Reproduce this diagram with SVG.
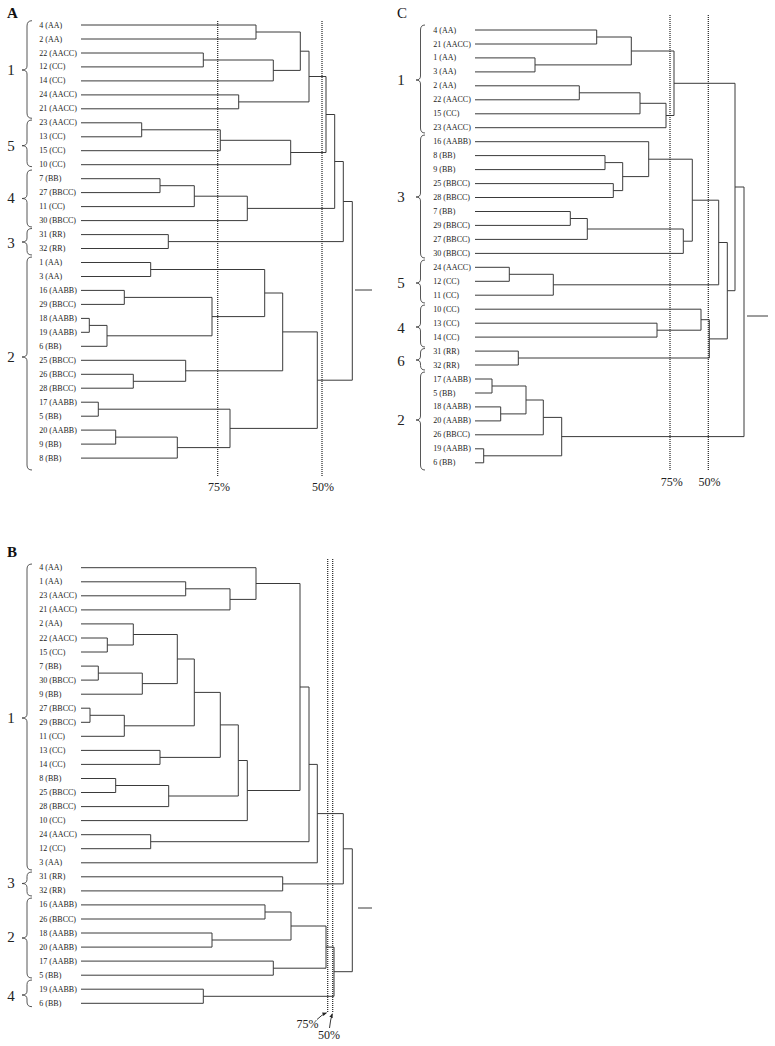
<svg xmlns="http://www.w3.org/2000/svg" width="775" height="1046" viewBox="0 0 775 1046">
<style>
.lf{font-family:"Liberation Serif","Times New Roman",serif;font-size:8px;fill:#222;dominant-baseline:central}
.gp{font-family:"Liberation Serif","Times New Roman",serif;font-size:15px;fill:#222;text-anchor:middle;dominant-baseline:central}
.pct{font-family:"Liberation Serif","Times New Roman",serif;font-size:12px;fill:#222;text-anchor:middle}
.ttl{font-family:"Liberation Serif","Times New Roman",serif;font-size:15px;font-weight:bold;fill:#111}
.ttlc{font-family:"Liberation Serif","Times New Roman",serif;font-size:15px;fill:#111}
.tr{fill:none;stroke:#3a3a3a;stroke-width:1}
.dt{fill:none;stroke:#222;stroke-width:1.2;stroke-dasharray:1 1}
.br{fill:none;stroke:#444;stroke-width:0.9}
.ar{fill:none;stroke:#222;stroke-width:0.9}
</style>
<defs>
<marker id="ah" viewBox="0 0 10 10" refX="9" refY="5" markerWidth="5" markerHeight="5" orient="auto">
<path d="M0 1 L10 5 L0 9 Z" fill="#222"/>
</marker>
</defs>
<rect width="775" height="1046" fill="#fff"/>

<!-- ===== Panel A ===== -->
<g id="panelA-title"><text class="ttl" x="7" y="18">A</text></g>
<g id="panelA-leaves">
<g id="A-4"><text class="lf" x="39.3" y="25">4 (AA)</text></g>
<g id="A-2"><text class="lf" x="39.3" y="39">2 (AA)</text></g>
<g id="A-22"><text class="lf" x="39.3" y="53">22 (AACC)</text></g>
<g id="A-12"><text class="lf" x="39.3" y="66.9">12 (CC)</text></g>
<g id="A-14"><text class="lf" x="39.3" y="80.9">14 (CC)</text></g>
<g id="A-24"><text class="lf" x="39.3" y="94.9">24 (AACC)</text></g>
<g id="A-21"><text class="lf" x="39.3" y="108.8">21 (AACC)</text></g>
<g id="A-23"><text class="lf" x="39.3" y="122.8">23 (AACC)</text></g>
<g id="A-13"><text class="lf" x="39.3" y="136.8">13 (CC)</text></g>
<g id="A-15"><text class="lf" x="39.3" y="150.7">15 (CC)</text></g>
<g id="A-10"><text class="lf" x="39.3" y="164.7">10 (CC)</text></g>
<g id="A-7"><text class="lf" x="39.3" y="178.7">7 (BB)</text></g>
<g id="A-27"><text class="lf" x="39.3" y="192.6">27 (BBCC)</text></g>
<g id="A-11"><text class="lf" x="39.3" y="206.6">11 (CC)</text></g>
<g id="A-30"><text class="lf" x="39.3" y="220.6">30 (BBCC)</text></g>
<g id="A-31"><text class="lf" x="39.3" y="234.6">31 (RR)</text></g>
<g id="A-32"><text class="lf" x="39.3" y="248.5">32 (RR)</text></g>
<g id="A-1"><text class="lf" x="39.3" y="262.5">1 (AA)</text></g>
<g id="A-3"><text class="lf" x="39.3" y="276.5">3 (AA)</text></g>
<g id="A-16"><text class="lf" x="39.3" y="290.4">16 (AABB)</text></g>
<g id="A-29"><text class="lf" x="39.3" y="304.4">29 (BBCC)</text></g>
<g id="A-18"><text class="lf" x="39.3" y="318.4">18 (AABB)</text></g>
<g id="A-19"><text class="lf" x="39.3" y="332.3">19 (AABB)</text></g>
<g id="A-6"><text class="lf" x="39.3" y="346.3">6 (BB)</text></g>
<g id="A-25"><text class="lf" x="39.3" y="360.3">25 (BBCC)</text></g>
<g id="A-26"><text class="lf" x="39.3" y="374.3">26 (BBCC)</text></g>
<g id="A-28"><text class="lf" x="39.3" y="388.2">28 (BBCC)</text></g>
<g id="A-17"><text class="lf" x="39.3" y="402.2">17 (AABB)</text></g>
<g id="A-5"><text class="lf" x="39.3" y="416.2">5 (BB)</text></g>
<g id="A-20"><text class="lf" x="39.3" y="430.1">20 (AABB)</text></g>
<g id="A-9"><text class="lf" x="39.3" y="444.1">9 (BB)</text></g>
<g id="A-8"><text class="lf" x="39.3" y="458.1">8 (BB)</text></g>
</g>
<g id="panelA-groups">
<g id="A-g1"><path class="br" d="M32 20.7 Q27 20.7 27 26 V66 Q27 70 22 70 Q27 70 27 74 V113 Q27 118.3 32 118.3"/><text class="gp" x="11" y="70">1</text></g>
<g id="A-g5"><path class="br" d="M32 120 Q27 120 27 125 V141.7 Q27 145.7 22 145.7 Q27 145.7 27 149.7 V161.7 Q27 166.7 32 166.7"/><text class="gp" x="11" y="145.7">5</text></g>
<g id="A-g4"><path class="br" d="M32 170 Q27 170 27 175 V194.5 Q27 198.5 22 198.5 Q27 198.5 27 202.5 V222 Q27 227 32 227"/><text class="gp" x="11" y="197.5">4</text></g>
<g id="A-g3"><path class="br" d="M32 228.5 Q27 228.5 27 233 V238 Q27 242 22 242 Q27 242 27 246 V250.5 Q27 255 32 255"/><text class="gp" x="11" y="243">3</text></g>
<g id="A-g2"><path class="br" d="M32 257 Q27 257 27 262 V353 Q27 357 22 357 Q27 357 27 361 V465 Q27 470 32 470"/><text class="gp" x="11" y="357">2</text></g>
</g>
<g id="panelA-connectors">
<path class="tr" d="M81 25 H256 V39 H81"/>
<path class="tr" d="M81 53 H203.3 V66.9 H81"/>
<path class="tr" d="M203.3 60 H273.3 V80.9 H81"/>
<path class="tr" d="M256 32 H300.3 V70.4 H273.3"/>
<path class="tr" d="M81 94.9 H238.7 V108.8 H81"/>
<path class="tr" d="M300.3 51.2 H309 V101.9 H238.7"/>
<path class="tr" d="M81 122.8 H141.7 V136.8 H81"/>
<path class="tr" d="M141.7 129.8 H220.3 V150.7 H81"/>
<path class="tr" d="M220.3 140.3 H290.7 V164.7 H81"/>
<path class="tr" d="M309 76.5 H326 V152.5 H290.7"/>
<path class="tr" d="M81 178.7 H160 V192.6 H81"/>
<path class="tr" d="M160 185.7 H194.3 V206.6 H81"/>
<path class="tr" d="M194.3 196.2 H247.3 V220.6 H81"/>
<path class="tr" d="M326 114.5 H334.7 V208.4 H247.3"/>
<path class="tr" d="M81 234.6 H168.3 V248.5 H81"/>
<path class="tr" d="M334.7 161.5 H343.3 V241.6 H168.3"/>
<path class="tr" d="M81 262.5 H150.7 V276.5 H81"/>
<path class="tr" d="M81 318.4 H89.3 V332.3 H81"/>
<path class="tr" d="M89.3 325.4 H107 V346.3 H81"/>
<path class="tr" d="M81 290.4 H124.3 V304.4 H81"/>
<path class="tr" d="M124.3 297.4 H212 V335.8 H107"/>
<path class="tr" d="M150.7 269.5 H264.7 V316.6 H212"/>
<path class="tr" d="M81 374.3 H133.3 V388.2 H81"/>
<path class="tr" d="M81 360.3 H185.7 V381.3 H133.3"/>
<path class="tr" d="M264.7 293 H282.7 V370.8 H185.7"/>
<path class="tr" d="M81 402.2 H98.3 V416.2 H81"/>
<path class="tr" d="M81 430.1 H115.7 V444.1 H81"/>
<path class="tr" d="M115.7 437.1 H177.3 V458.1 H81"/>
<path class="tr" d="M98.3 409.2 H230 V447.6 H177.3"/>
<path class="tr" d="M282.7 331.9 H317.3 V428.4 H230"/>
<path class="tr" d="M343.3 201.5 H352.3 V380.2 H317.3"/>
<path class="tr" d="M355 290 H372"/>
<path class="dt" d="M217.7 21 V476"/>
<path class="dt" d="M322 21 V476"/>
</g>
<g id="panelA-scale">
<text class="pct" x="219" y="491">75%</text>
<text class="pct" x="323" y="491">50%</text>
</g>

<!-- ===== Panel C ===== -->
<g id="panelC-title"><text class="ttlc" x="397" y="18">C</text></g>
<g id="panelC-leaves">
<g id="C-4"><text class="lf" x="433.3" y="30">4 (AA)</text></g>
<g id="C-21"><text class="lf" x="433.3" y="44">21 (AACC)</text></g>
<g id="C-1"><text class="lf" x="433.3" y="57.9">1 (AA)</text></g>
<g id="C-3"><text class="lf" x="433.3" y="71.9">3 (AA)</text></g>
<g id="C-2"><text class="lf" x="433.3" y="85.8">2 (AA)</text></g>
<g id="C-22"><text class="lf" x="433.3" y="99.8">22 (AACC)</text></g>
<g id="C-15"><text class="lf" x="433.3" y="113.8">15 (CC)</text></g>
<g id="C-23"><text class="lf" x="433.3" y="127.7">23 (AACC)</text></g>
<g id="C-16"><text class="lf" x="433.3" y="141.7">16 (AABB)</text></g>
<g id="C-8"><text class="lf" x="433.3" y="155.6">8 (BB)</text></g>
<g id="C-9"><text class="lf" x="433.3" y="169.6">9 (BB)</text></g>
<g id="C-25"><text class="lf" x="433.3" y="183.6">25 (BBCC)</text></g>
<g id="C-28"><text class="lf" x="433.3" y="197.5">28 (BBCC)</text></g>
<g id="C-7"><text class="lf" x="433.3" y="211.5">7 (BB)</text></g>
<g id="C-29"><text class="lf" x="433.3" y="225.4">29 (BBCC)</text></g>
<g id="C-27"><text class="lf" x="433.3" y="239.4">27 (BBCC)</text></g>
<g id="C-30"><text class="lf" x="433.3" y="253.4">30 (BBCC)</text></g>
<g id="C-24"><text class="lf" x="433.3" y="267.3">24 (AACC)</text></g>
<g id="C-12"><text class="lf" x="433.3" y="281.3">12 (CC)</text></g>
<g id="C-11"><text class="lf" x="433.3" y="295.2">11 (CC)</text></g>
<g id="C-10"><text class="lf" x="433.3" y="309.2">10 (CC)</text></g>
<g id="C-13"><text class="lf" x="433.3" y="323.2">13 (CC)</text></g>
<g id="C-14"><text class="lf" x="433.3" y="337.1">14 (CC)</text></g>
<g id="C-31"><text class="lf" x="433.3" y="351.1">31 (RR)</text></g>
<g id="C-32"><text class="lf" x="433.3" y="365">32 (RR)</text></g>
<g id="C-17"><text class="lf" x="433.3" y="379">17 (AABB)</text></g>
<g id="C-5"><text class="lf" x="433.3" y="393">5 (BB)</text></g>
<g id="C-18"><text class="lf" x="433.3" y="406.9">18 (AABB)</text></g>
<g id="C-20"><text class="lf" x="433.3" y="420.9">20 (AABB)</text></g>
<g id="C-26"><text class="lf" x="433.3" y="434.8">26 (BBCC)</text></g>
<g id="C-19"><text class="lf" x="433.3" y="448.8">19 (AABB)</text></g>
<g id="C-6"><text class="lf" x="433.3" y="462.8">6 (BB)</text></g>
</g>
<g id="panelC-groups">
<g id="C-g1"><path class="br" d="M425 25 Q420.5 25 420.5 30 V76 Q420.5 80 416 80 Q420.5 80 420.5 84 V128 Q420.5 133 425 133"/><text class="gp" x="401" y="80">1</text></g>
<g id="C-g3"><path class="br" d="M425 135 Q420.5 135 420.5 140 V193 Q420.5 197 416 197 Q420.5 197 420.5 201 V253 Q420.5 258 425 258"/><text class="gp" x="401" y="197">3</text></g>
<g id="C-g5"><path class="br" d="M425 260 Q420.5 260 420.5 265 V279 Q420.5 283 416 283 Q420.5 283 420.5 287 V298 Q420.5 303 425 303"/><text class="gp" x="401" y="283">5</text></g>
<g id="C-g4"><path class="br" d="M425 305 Q420.5 305 420.5 310 V323 Q420.5 327 416 327 Q420.5 327 420.5 331 V342 Q420.5 347 425 347"/><text class="gp" x="401" y="328">4</text></g>
<g id="C-g6"><path class="br" d="M425 348.5 Q420.5 348.5 420.5 353 V356 Q420.5 360 416 360 Q420.5 360 420.5 364 V365.5 Q420.5 370 425 370"/><text class="gp" x="401" y="361">6</text></g>
<g id="C-g2"><path class="br" d="M425 372 Q420.5 372 420.5 377 V416 Q420.5 420 416 420 Q420.5 420 420.5 424 V465 Q420.5 470 425 470"/><text class="gp" x="401" y="420">2</text></g>
</g>
<g id="panelC-connectors">
<path class="tr" d="M475 30 H596.7 V44 H475"/>
<path class="tr" d="M475 57.9 H535 V71.9 H475"/>
<path class="tr" d="M596.7 37 H631.3 V64.9 H535"/>
<path class="tr" d="M475 85.8 H579.3 V99.8 H475"/>
<path class="tr" d="M579.3 92.8 H640 V113.8 H475"/>
<path class="tr" d="M640 103.3 H666 V127.7 H475"/>
<path class="tr" d="M631.3 51 H674 V115.5 H666"/>
<path class="tr" d="M475 155.6 H605 V169.6 H475"/>
<path class="tr" d="M475 183.6 H613.3 V197.5 H475"/>
<path class="tr" d="M605 162.6 H622.7 V190.6 H613.3"/>
<path class="tr" d="M475 141.7 H648.7 V176.6 H622.7"/>
<path class="tr" d="M475 211.5 H570.3 V225.4 H475"/>
<path class="tr" d="M570.3 218.5 H587.3 V239.4 H475"/>
<path class="tr" d="M587.3 229 H683.3 V253.4 H475"/>
<path class="tr" d="M648.7 159.2 H692.3 V241.2 H683.3"/>
<path class="tr" d="M475 267.3 H509.3 V281.3 H475"/>
<path class="tr" d="M509.3 274.3 H553.3 V295.2 H475"/>
<path class="tr" d="M692.3 200.2 H718.7 V284.8 H553.3"/>
<path class="tr" d="M475 323.2 H657 V337.1 H475"/>
<path class="tr" d="M475 309.2 H701 V330.2 H657"/>
<path class="tr" d="M475 351.1 H518.3 V365 H475"/>
<path class="tr" d="M701 319.7 H709.3 V358 H518.3"/>
<path class="tr" d="M718.7 242.5 H727.3 V338.9 H709.3"/>
<path class="tr" d="M674 83.3 H735 V290.7 H727.3"/>
<path class="tr" d="M475 379 H492 V393 H475"/>
<path class="tr" d="M475 406.9 H500.7 V420.9 H475"/>
<path class="tr" d="M492 386 H526 V413.9 H500.7"/>
<path class="tr" d="M526 400 H543.3 V434.8 H475"/>
<path class="tr" d="M475 448.8 H483.7 V462.8 H475"/>
<path class="tr" d="M543.3 417.4 H561.7 V455.8 H483.7"/>
<path class="tr" d="M735 187 H744 V436.6 H561.7"/>
<path class="tr" d="M747 316 H768"/>
<path class="dt" d="M670 15 V470"/>
<path class="dt" d="M708.3 15 V470"/>
</g>
<g id="panelC-scale">
<text class="pct" x="671.7" y="486">75%</text>
<text class="pct" x="709.5" y="486">50%</text>
</g>

<!-- ===== Panel B ===== -->
<g id="panelB-title"><text class="ttl" x="7" y="557">B</text></g>
<g id="panelB-leaves">
<g id="B-4"><text class="lf" x="39.3" y="567.7">4 (AA)</text></g>
<g id="B-1"><text class="lf" x="39.3" y="581.8">1 (AA)</text></g>
<g id="B-23"><text class="lf" x="39.3" y="595.8">23 (AACC)</text></g>
<g id="B-21"><text class="lf" x="39.3" y="609.9">21 (AACC)</text></g>
<g id="B-2"><text class="lf" x="39.3" y="623.9">2 (AA)</text></g>
<g id="B-22"><text class="lf" x="39.3" y="638">22 (AACC)</text></g>
<g id="B-15"><text class="lf" x="39.3" y="652">15 (CC)</text></g>
<g id="B-7"><text class="lf" x="39.3" y="666.1">7 (BB)</text></g>
<g id="B-30"><text class="lf" x="39.3" y="680.1">30 (BBCC)</text></g>
<g id="B-9"><text class="lf" x="39.3" y="694.2">9 (BB)</text></g>
<g id="B-27"><text class="lf" x="39.3" y="708.2">27 (BBCC)</text></g>
<g id="B-29"><text class="lf" x="39.3" y="722.3">29 (BBCC)</text></g>
<g id="B-11"><text class="lf" x="39.3" y="736.3">11 (CC)</text></g>
<g id="B-13"><text class="lf" x="39.3" y="750.4">13 (CC)</text></g>
<g id="B-14"><text class="lf" x="39.3" y="764.4">14 (CC)</text></g>
<g id="B-8"><text class="lf" x="39.3" y="778.5">8 (BB)</text></g>
<g id="B-25"><text class="lf" x="39.3" y="792.5">25 (BBCC)</text></g>
<g id="B-28"><text class="lf" x="39.3" y="806.6">28 (BBCC)</text></g>
<g id="B-10"><text class="lf" x="39.3" y="820.6">10 (CC)</text></g>
<g id="B-24"><text class="lf" x="39.3" y="834.7">24 (AACC)</text></g>
<g id="B-12"><text class="lf" x="39.3" y="848.7">12 (CC)</text></g>
<g id="B-3"><text class="lf" x="39.3" y="862.8">3 (AA)</text></g>
<g id="B-31"><text class="lf" x="39.3" y="876.8">31 (RR)</text></g>
<g id="B-32"><text class="lf" x="39.3" y="890.9">32 (RR)</text></g>
<g id="B-16"><text class="lf" x="39.3" y="904.9">16 (AABB)</text></g>
<g id="B-26"><text class="lf" x="39.3" y="919">26 (BBCC)</text></g>
<g id="B-18"><text class="lf" x="39.3" y="933">18 (AABB)</text></g>
<g id="B-20"><text class="lf" x="39.3" y="947.1">20 (AABB)</text></g>
<g id="B-17"><text class="lf" x="39.3" y="961.1">17 (AABB)</text></g>
<g id="B-5"><text class="lf" x="39.3" y="975.2">5 (BB)</text></g>
<g id="B-19"><text class="lf" x="39.3" y="989.2">19 (AABB)</text></g>
<g id="B-6"><text class="lf" x="39.3" y="1003.3">6 (BB)</text></g>
</g>
<g id="panelB-groups">
<g id="B-g1"><path class="br" d="M32 564 Q27 564 27 569 V714 Q27 718 22 718 Q27 718 27 722 V865 Q27 870 32 870"/><text class="gp" x="11" y="718">1</text></g>
<g id="B-g3"><path class="br" d="M32 872 Q27 872 27 876.5 V879.5 Q27 883.5 22 883.5 Q27 883.5 27 887.5 V891.5 Q27 896 32 896"/><text class="gp" x="11" y="883">3</text></g>
<g id="B-g2"><path class="br" d="M32 898 Q27 898 27 903 V934 Q27 938 22 938 Q27 938 27 942 V973 Q27 978 32 978"/><text class="gp" x="11" y="937">2</text></g>
<g id="B-g4"><path class="br" d="M32 980 Q27 980 27 984.5 V991 Q27 995 22 995 Q27 995 27 999 V1002 Q27 1006.7 32 1006.7"/><text class="gp" x="11" y="996">4</text></g>
</g>
<g id="panelB-connectors">
<path class="tr" d="M81 581.8 H185.7 V595.8 H81"/>
<path class="tr" d="M185.7 588.8 H230 V609.9 H81"/>
<path class="tr" d="M81 567.7 H256 V599.4 H230"/>
<path class="tr" d="M81 638 H107.3 V652 H81"/>
<path class="tr" d="M81 623.9 H133.3 V645 H107.3"/>
<path class="tr" d="M81 666.1 H98.3 V680.1 H81"/>
<path class="tr" d="M98.3 673.1 H142.3 V694.2 H81"/>
<path class="tr" d="M133.3 634.5 H177.3 V683.6 H142.3"/>
<path class="tr" d="M81 708.2 H90 V722.3 H81"/>
<path class="tr" d="M90 715.3 H124.3 V736.3 H81"/>
<path class="tr" d="M177.3 659 H194.3 V725.8 H124.3"/>
<path class="tr" d="M81 750.4 H160 V764.4 H81"/>
<path class="tr" d="M194.3 692.4 H220.3 V757.4 H160"/>
<path class="tr" d="M81 778.5 H115.7 V792.5 H81"/>
<path class="tr" d="M115.7 785.5 H168.7 V806.6 H81"/>
<path class="tr" d="M220.3 724.9 H238.3 V796 H168.7"/>
<path class="tr" d="M238.3 760.5 H247.3 V820.6 H81"/>
<path class="tr" d="M256 583.5 H300 V790.5 H247.3"/>
<path class="tr" d="M81 834.7 H150.7 V848.7 H81"/>
<path class="tr" d="M300 687 H309 V841.7 H150.7"/>
<path class="tr" d="M309 764.4 H317.3 V862.8 H81"/>
<path class="tr" d="M81 876.8 H282.7 V890.9 H81"/>
<path class="tr" d="M317.3 813.6 H343.3 V883.9 H282.7"/>
<path class="tr" d="M81 904.9 H265 V919 H81"/>
<path class="tr" d="M81 933 H212 V947.1 H81"/>
<path class="tr" d="M265 912 H291 V940 H212"/>
<path class="tr" d="M81 961.1 H273.3 V975.2 H81"/>
<path class="tr" d="M291 926 H326 V968.2 H273.3"/>
<path class="tr" d="M81 989.2 H203.3 V1003.3 H81"/>
<path class="tr" d="M326 947.1 H334 V996.3 H203.3"/>
<path class="tr" d="M343.3 848.8 H352.3 V971.7 H334"/>
<path class="tr" d="M358 908 H372"/>
<path class="dt" d="M327.7 559 V1012"/>
<path class="dt" d="M332.7 559 V1012"/>
<path class="ar" d="M317 1019.5 Q322 1014.5 326.5 1012.8" marker-end="url(#ah)"/>
<path class="ar" d="M329.5 1028 Q330.5 1019 332.3 1013.8" marker-end="url(#ah)"/>
</g>
<g id="panelB-scale">
<text class="pct" x="307.5" y="1028">75%</text>
<text class="pct" x="329" y="1039">50%</text>
</g>
</svg>
